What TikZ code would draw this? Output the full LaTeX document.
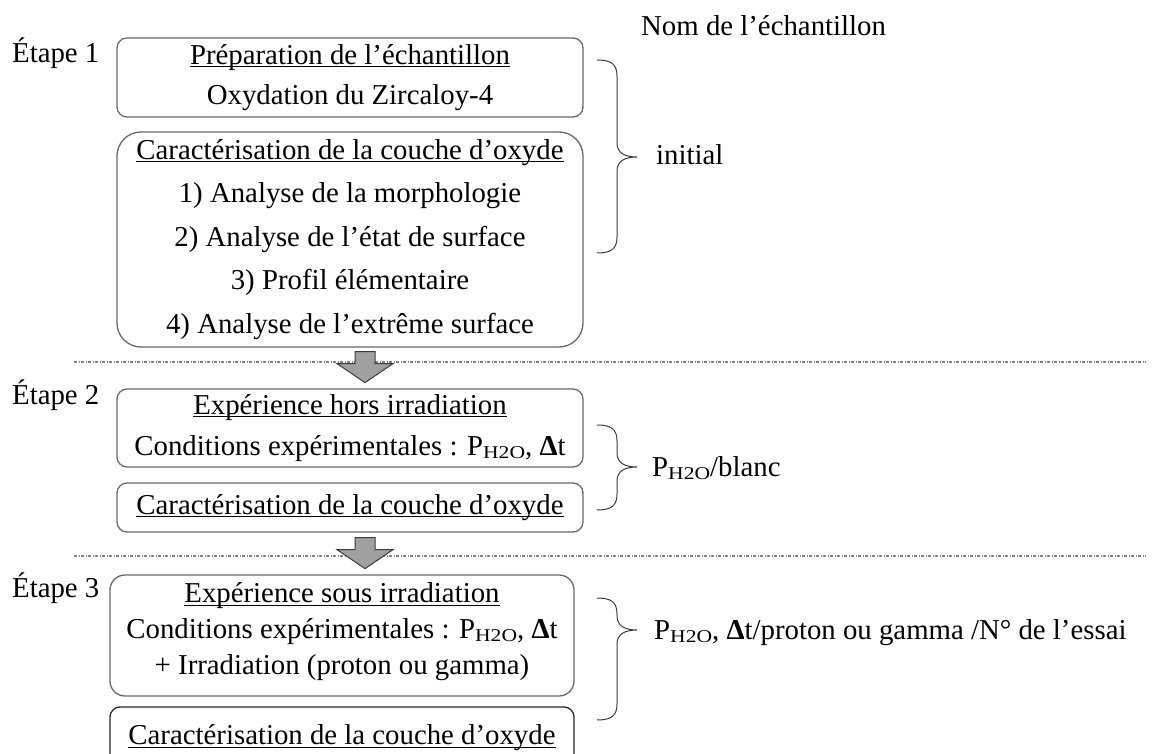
\documentclass[tikz,border=0pt]{standalone}
\usepackage{fontspec}
\setmainfont{Liberation Serif}
\usetikzlibrary{calc}
\definecolor{boxgray}{RGB}{105,105,105}
\definecolor{boxdark}{RGB}{40,40,40}
\definecolor{arrowfill}{RGB}{160,160,160}
\definecolor{arrowline}{RGB}{60,60,60}
\definecolor{sepgray}{RGB}{130,130,130}
\definecolor{bracecol}{RGB}{60,60,60}
\newcommand\myul[1]{\setbox0=\hbox{#1}\leavevmode\rlap{\rule[-3pt]{\wd0}{1.3pt}}\box0}
\newcommand\Ph{P\raisebox{-3pt}{\scalebox{1.2}[1]{\fontsize{18}{18}\selectfont H2O}}}
\newcommand\Dt{\textbf{Δ}t}
% #1 x, #2 top y, #3 tip y, #4 bottom y
\newcommand\bracepath[4]{%
 \draw[bracestyle] (#1,#2) .. controls (#1+14,#2) and (#1+20,#2+4) .. (#1+20,#2+16)
   -- (#1+20,#3-14) .. controls (#1+20,#3-4) and (#1+28,#3) .. (#1+40,#3)
   .. controls (#1+28,#3) and (#1+20,#3+4) .. (#1+20,#3+14)
   -- (#1+20,#4-16) .. controls (#1+20,#4-4) and (#1+14,#4) .. (#1,#4);}
\begin{document}
\begin{tikzpicture}[x=1pt,y=-1pt,
  font=\fontsize{28.8}{40}\selectfont,
  box/.style={draw=boxgray, line width=1.3pt, rounded corners=10pt, inner sep=0pt, align=center},
  txt/.style={inner sep=0pt, align=center},
  lbl/.style={anchor=base west, inner sep=0pt},
  sepline/.style={draw=sepgray, line width=1.1pt, dash pattern=on 3pt off 1.5pt on 1pt off 1.5pt},
  bracestyle/.style={draw=bracecol, line width=1pt},
  downarrow/.pic={\draw[fill=arrowfill, draw=arrowline, line width=1pt]
     (-10,0) -- (10,0) -- (10,12) -- (28,12) -- (0,31) -- (-28,12) -- (-10,12) -- cycle;}
]
\clip (0,0) rectangle (1160,754);
\useasboundingbox (0,0) rectangle (1160,754);

% separators
\draw[sepline] (74,362) -- (1146,362);
\draw[sepline] (74,556) -- (1146,556);

% stage labels
\node[lbl] (e1) at (12,63) {Étape 1};
\node[lbl] (e2) at (12,404) {Étape 2};
\node[lbl] (e3) at (12,597) {Étape 3};
\node[lbl] (nom) at (641,36) {Nom de l’échantillon};

% boxes
\node[box, minimum width=466pt, minimum height=79pt] (b1) at (350,77.5)
  {\myul{Préparation de l’échantillon}\\Oxydation du Zircaloy-4};
\node[box, rounded corners=24pt, minimum width=466pt, minimum height=215pt,
  font=\fontsize{28.8}{43.5}\selectfont] (b2) at (350,239.5)
  {\myul{Caractérisation de la couche d’oxyde}\\1) Analyse de la morphologie\\2) Analyse de l’état de surface\\3) Profil élémentaire\\4) Analyse de l’extrême surface};
\node[box, minimum width=466pt, minimum height=78pt, font=\fontsize{28.8}{41}\selectfont] (b3) at (350,428)
  {\myul{Expérience hors irradiation}\\Conditions expérimentales : \Ph, \Dt};
\node[box, minimum width=466pt, minimum height=49pt] (b4) at (350,507.5)
  {\myul{Caractérisation de la couche d’oxyde}};
\node[box, rounded corners=15pt, minimum width=464pt, minimum height=121pt] (b5) at (342,635.5) {};
\node[txt, font=\fontsize{28.8}{36}\selectfont] (t5) at (342,632)
  {\myul{Expérience sous irradiation}\\Conditions expérimentales : \Ph, \Dt\\+ Irradiation (proton ou gamma)};
\node[box, draw=boxdark, minimum width=464pt, minimum height=62pt] (b6) at (342,738)
  {\myul{Caractérisation de la couche d’oxyde}};

% arrows between stages
\pic at ($(b2.south)+(15,4)$) {downarrow};
\pic at ($(b4.south)+(15,5)$) {downarrow};

% braces
\bracepath{597}{60}{157}{253}
\bracepath{597}{425}{467}{510}
\bracepath{597}{598}{630}{720}

\node[lbl] (ini) at (656,165) {initial};
\node[lbl] (blanc) at (652,476) {\Ph/blanc};
\node[lbl] (essai) at (654,639) {\Ph, \Dt/proton ou gamma /N° de l’essai};
\end{tikzpicture}
\end{document}
